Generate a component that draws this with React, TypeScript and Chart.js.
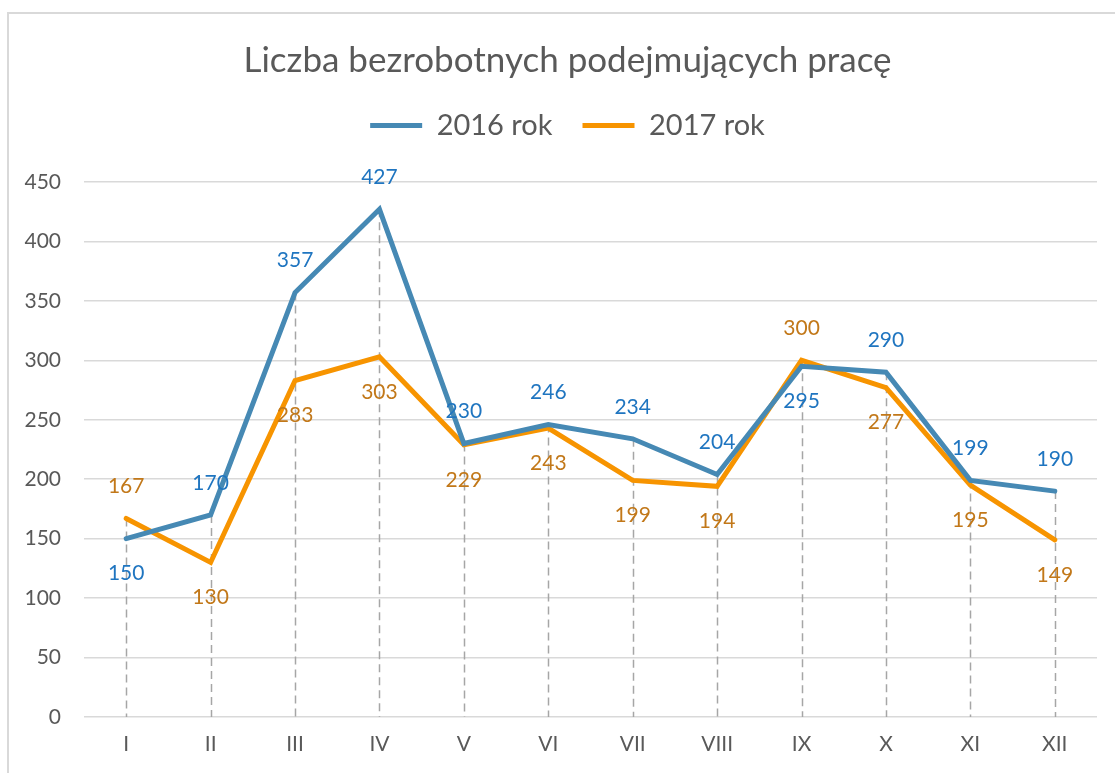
import React, { useEffect, useRef } from "react";
import { Chart, registerables } from "chart.js";

Chart.register(...registerables);

const TITLE = "Liczba bezrobotnych podejmujących pracę";
const MONTHS = ["I", "II", "III", "IV", "V", "VI", "VII", "VIII", "IX", "X", "XI", "XII"];
const SERIES_2016_LABEL = "2016 rok";
const SERIES_2017_LABEL = "2017 rok";
const VALUES_2016 = [150, 170, 357, 427, 230, 246, 234, 204, 295, 290, 199, 190];
const VALUES_2017 = [167, 130, 283, 303, 229, 243, 199, 194, 300, 277, 195, 149];
const Y_MIN = 0;
const Y_MAX = 450;
const Y_STEP = 50;

const FONT = "Lato";
const TEXT_GREY = "#595959";
const LINE_2016 = "#4689B4";
const LINE_2017 = "#F79400";
const LABEL_2016 = "#1F75C0";
const LABEL_2017 = "#C27819";

const dropLinesPlugin = {
  id: "dropLines",
  beforeDatasetsDraw(chart: any) {
    const { ctx } = chart;
    const yScale = chart.scales.y;
    const metas = chart.data.datasets.map((_: any, i: number) => chart.getDatasetMeta(i));
    const n = chart.data.labels.length;
    ctx.save();
    ctx.strokeStyle = "#a6a6a6";
    ctx.lineWidth = 1.5;
    ctx.setLineDash([8, 5]);
    for (let i = 0; i < n; i++) {
      let top = Infinity;
      let x = 0;
      metas.forEach((m: any) => {
        const p = m.data[i];
        if (p && p.y < top) {
          top = p.y;
          x = p.x;
        }
      });
      ctx.beginPath();
      ctx.moveTo(Math.round(x) + 0.5, top);
      ctx.lineTo(Math.round(x) + 0.5, yScale.getPixelForValue(Y_MIN));
      ctx.stroke();
    }
    ctx.restore();
  },
};

const valueLabelsPlugin = {
  id: "valueLabels",
  afterDatasetsDraw(chart: any) {
    const { ctx } = chart;
    const ds = chart.data.datasets;
    const n = chart.data.labels.length;
    const colors = [LABEL_2016, LABEL_2017];
    ctx.save();
    ctx.font = `21px ${FONT}`;
    ctx.textAlign = "center";
    ctx.textBaseline = "middle";
    for (let i = 0; i < n; i++) {
      const vals = ds.map((d: any) => d.data[i]);
      const maxV = Math.max(...vals);
      ds.forEach((d: any, di: number) => {
        const p = chart.getDatasetMeta(di).data[i];
        const above = d.data[i] === maxV;
        ctx.fillStyle = colors[di];
        ctx.fillText(String(d.data[i]), p.x, p.y + (above ? -32 : 35));
      });
    }
    ctx.restore();
  },
};

export default function App() {
  const canvasRef = useRef<HTMLCanvasElement | null>(null);

  useEffect(() => {
    if (!canvasRef.current) return;
    const chart = new Chart(canvasRef.current, {
      type: "line",
      data: {
        labels: MONTHS,
        datasets: [
          {
            label: SERIES_2016_LABEL,
            data: VALUES_2016,
            borderColor: LINE_2016,
            backgroundColor: LINE_2016,
            borderWidth: 5,
            borderCapStyle: "round",
            pointRadius: 0,
            tension: 0,
          },
          {
            label: SERIES_2017_LABEL,
            data: VALUES_2017,
            borderColor: LINE_2017,
            backgroundColor: LINE_2017,
            borderWidth: 5,
            borderCapStyle: "round",
            pointRadius: 0,
            tension: 0,
          },
        ],
      },
      options: {
        responsive: false,
        animation: false,
        devicePixelRatio: 1,
        layout: { padding: { top: 12, left: 20, right: 0, bottom: 0 } },
        plugins: {
          title: {
            display: true,
            text: TITLE,
            color: TEXT_GREY,
            font: { family: FONT, size: 35, weight: "normal", lineHeight: 1.1 },
            padding: { top: 29, bottom: 1.5 },
          },
          legend: {
            display: true,
            position: "top",
            labels: {
              color: TEXT_GREY,
              font: { family: FONT, size: 29 },
              boxWidth: 52,
              boxHeight: 5,
              padding: 30,
              usePointStyle: true,
              pointStyle: "line",
              pointStyleWidth: 52,
            },
          },
          subtitle: {
            display: true,
            text: " ",
            weight: 500,
            font: { family: FONT, size: 20 },
            padding: { top: 0, bottom: 8 },
          },
          tooltip: { enabled: false },
        },
        scales: {
          x: {
            offset: true,
            grid: { display: false, drawTicks: false, offset: true },
            border: { display: false },
            ticks: {
              color: TEXT_GREY,
              font: { family: FONT, size: 21 },
              padding: 15,
            },
            afterFit(scale: any) {
              scale.height = 56;
            },
          },
          y: {
            min: Y_MIN,
            max: Y_MAX,
            grid: { color: "#d9d9d9", lineWidth: 1.5, drawTicks: false },
            border: { display: false },
            ticks: {
              stepSize: Y_STEP,
              color: TEXT_GREY,
              font: { family: FONT, size: 21 },
              padding: 23,
            },
            afterFit(scale: any) {
              scale.width = 64;
            },
          },
          yRightSpace: {
            type: "linear",
            position: "right",
            min: Y_MIN,
            max: Y_MAX,
            grid: { display: false, drawTicks: false },
            border: { display: false },
            ticks: { display: false },
            afterFit(scale: any) {
              scale.width = 18;
            },
          },
        },
      } as any,
      plugins: [dropLinesPlugin, valueLabelsPlugin],
    });
    return () => chart.destroy();
  }, []);

  return (
    <div
      style={{
        position: "fixed",
        left: 0,
        top: 0,
        width: 1115,
        height: 773,
        overflow: "hidden",
        background: "#fff",
      }}
    >
      <div
        style={{
          position: "absolute",
          left: 7,
          top: 12,
          width: 1200,
          height: 900,
          border: "2px solid #d9d9d9",
          boxSizing: "border-box",
        }}
      />
      <canvas
        ref={canvasRef}
        width={1115}
        height={773}
        style={{ position: "absolute", left: 0, top: 0, width: 1115, height: 773 }}
      />
    </div>
  );
}
